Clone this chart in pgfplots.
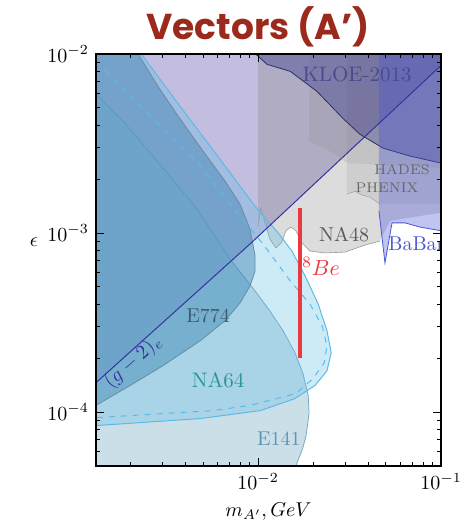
\documentclass[border=0pt]{standalone}
\usepackage{fontspec}
\usepackage{pgfplots}
\pgfplotsset{compat=1.18}
\newfontfamily\titlefont{Poppins}
\definecolor{lav}{HTML}{C3BEDF}
\definecolor{nagray}{HTML}{808080}
\definecolor{kloe}{HTML}{3A3A8C}
\definecolor{babar}{HTML}{4A55D6}
\definecolor{eoneff}{HTML}{A9C9DA}
\definecolor{esev}{HTML}{2F6A98}
\definecolor{nasf}{HTML}{5BBBE6}
\definecolor{gmtwo}{HTML}{3434A0}
\definecolor{bered}{HTML}{E83A40}
\definecolor{titlered}{HTML}{9B2A1C}
\definecolor{kloetext}{HTML}{4A4A8C}
\definecolor{babartext}{HTML}{4C55D0}
\definecolor{esevtext}{HTML}{3D5A6C}
\definecolor{nasftext}{HTML}{2A9595}
\definecolor{eonetext}{HTML}{5C93B3}
\begin{document}
\begin{tikzpicture}
\begin{axis}[
  scale only axis, width=172.5pt, height=206pt,
  xmode=log, ymode=log,
  xmin=1.3e-3, xmax=0.1, ymin=5e-5, ymax=1e-2,
  axis on top,
  axis line style={line width=0.7pt},
  tick style={black, line width=0.5pt},
  major tick length=4pt, minor tick length=2.2pt,
  xlabel={$m_{A'}, GeV$},
]
% lavender region above (g-2) line
\addplot[draw=none, fill=lav] coordinates {(1.3e-3,1.46e-4) (9.04e-3,8.69e-4) (0.1,8.63e-3) (0.1,1e-2) (1.3e-3,1e-2)} -- cycle;
% NA48
\addplot[draw=none, fill=nagray, fill opacity=0.28] coordinates {(1e-2,1e-2) (1e-2,1.09e-3) (1.038e-2,1.38e-3) (1.09e-2,1.14e-3) (1.16e-2,9.26e-4) (1.25e-2,8.25e-4) (1.34e-2,8.80e-4) (1.42e-2,1.03e-3) (1.51e-2,1.08e-3) (1.61e-2,1.03e-3) (1.74e-2,8.80e-4) (1.92e-2,7.94e-4) (2.32e-2,7.74e-4) (2.99e-2,7.83e-4) (3.84e-2,8.57e-4) (4.64e-2,9.02e-4) (5.26e-2,1.17e-3) (0.1,1.3e-3) (0.1,1e-2)} -- cycle;
\addplot[black!40, line width=0.3pt] coordinates {(1e-2,1.09e-3) (1.038e-2,1.38e-3) (1.09e-2,1.14e-3) (1.16e-2,9.26e-4) (1.25e-2,8.25e-4) (1.34e-2,8.80e-4) (1.42e-2,1.03e-3) (1.51e-2,1.08e-3) (1.61e-2,1.03e-3) (1.74e-2,8.80e-4) (1.92e-2,7.94e-4) (2.32e-2,7.74e-4) (2.99e-2,7.83e-4) (3.84e-2,8.57e-4) (4.64e-2,9.02e-4)};
% HADES
\addplot[draw=none, fill=nagray, fill opacity=0.15] coordinates {(1.9e-2,1e-2) (1.9e-2,3.26e-3) (2.47e-2,2.87e-3) (3.06e-2,2.46e-3) (0.1,2.3e-3) (0.1,1e-2)} -- cycle;
% PHENIX
\addplot[draw=none, fill=nagray, fill opacity=0.15] coordinates {(3.06e-2,1e-2) (3.06e-2,1.65e-3) (3.39e-2,1.71e-3) (3.70e-2,1.63e-3) (4.09e-2,1.59e-3) (4.64e-2,1.45e-3) (0.1,1.45e-3) (0.1,1e-2)} -- cycle;
\addplot[black!35, line width=0.3pt] coordinates {(3.06e-2,1.65e-3) (3.39e-2,1.71e-3) (3.70e-2,1.63e-3) (4.09e-2,1.59e-3) (4.64e-2,1.45e-3)};
% KLOE
\addplot[draw=kloe!80!black, line width=0.4pt, fill=kloe, fill opacity=0.4] coordinates {(9.7e-3,1e-2) (1.12e-2,8.75e-3) (1.5e-2,8.0e-3) (2.1e-2,6.18e-3) (2.91e-2,4.37e-3) (3.61e-2,3.56e-3) (4.82e-2,2.98e-3) (6.77e-2,2.69e-3) (0.1,2.46e-3) (0.1,1e-2)} -- cycle;
% BaBar
\addplot[draw=none, fill=babar, fill opacity=0.35] coordinates {(4.58e-2,1e-2) (4.58e-2,1.33e-3) (4.94e-2,6.81e-4) (5.40e-2,1.14e-3) (6.35e-2,1.14e-3) (7.68e-2,1.08e-3) (0.1,1.03e-3) (0.1,1e-2)} -- cycle;
\addplot[babar, line width=0.4pt] coordinates {(4.58e-2,1.33e-3) (4.94e-2,6.81e-4) (5.40e-2,1.14e-3) (6.35e-2,1.14e-3) (7.68e-2,1.08e-3) (0.1,1.03e-3)};
% E141
\addplot[draw=eonetext!80, line width=0.4pt, fill=eoneff, fill opacity=0.6] coordinates {(1.3e-3,5.94e-3) (1.83e-3,4.21e-3) (3.03e-3,2.30e-3) (4.58e-3,1.38e-3) (6.94e-3,7.26e-4) (9.63e-3,4.75e-4) (1.16e-2,3.67e-4) (1.37e-2,2.85e-4) (1.59e-2,2.15e-4) (1.76e-2,1.64e-4) (1.88e-2,1.24e-4) (1.90e-2,9.81e-5) (1.83e-2,7.40e-5) (1.76e-2,6.34e-5) (1.61e-2,5e-5) (1.3e-3,5e-5)} -- cycle;
% E774
\addplot[draw=esevtext!80, line width=0.4pt, fill=esev, fill opacity=0.45] coordinates {(1.3e-3,1e-2) (2.21e-3,1e-2) (2.84e-3,6.59e-3) (3.66e-3,4.49e-3) (5.00e-3,2.87e-3) (6.60e-3,1.95e-3) (7.97e-3,1.45e-3) (9.04e-3,1.05e-3) (9.63e-3,7.44e-4) (9.63e-3,6.14e-4) (9.04e-3,5.07e-4) (7.97e-3,4.07e-4) (6.60e-3,3.24e-4) (4.82e-3,2.50e-4) (3.03e-3,1.82e-4) (2.00e-3,1.41e-4) (1.30e-3,1.09e-4)} -- cycle;
% NA64
\addplot[draw=nasf, line width=0.5pt, fill=nasf, fill opacity=0.3] coordinates {(1.3e-3,1e-2) (2.30e-3,1e-2) (3.75e-3,5.10e-3) (6.20e-3,2.58e-3) (9.63e-3,1.41e-3) (1.29e-2,1.0e-3) (1.53e-2,7.94e-4) (1.81e-2,5.75e-4) (2.13e-2,4.02e-4) (2.38e-2,2.85e-4) (2.51e-2,2.15e-4) (2.38e-2,1.70e-4) (2.05e-2,1.41e-4) (1.59e-2,1.19e-4) (1.03e-2,1.02e-4) (4.82e-3,9.20e-5) (1.3e-3,8.41e-5)} -- cycle;
\addplot[nasf, line width=0.5pt, dashed] coordinates {(1.3e-3,9.08e-3) (2.44e-3,4.78e-3) (4.58e-3,2.52e-3) (7.58e-3,1.33e-3) (1.064e-2,8.69e-4) (1.50e-2,5.40e-4) (1.92e-2,4.02e-4) (2.24e-2,3.03e-4) (2.38e-2,2.35e-4) (2.30e-2,1.89e-4) (2.00e-2,1.54e-4) (1.61e-2,1.27e-4) (9.04e-3,1.09e-4) (5.68e-3,1.02e-4) (1.3e-3,9.31e-5)};
% (g-2)_e line
\addplot[gmtwo, line width=0.5pt] coordinates {(1.3e-3,1.46e-4) (9.04e-3,8.69e-4) (0.1,8.63e-3)};
% 8Be
\addplot[bered, line width=2pt] coordinates {(1.70e-2,2.01e-4) (1.70e-2,1.38e-3)};
% labels
\node[text=kloetext, font=\fontsize{10.5}{12}\selectfont] at (axis cs:3.48e-2,7.69e-3) {KLOE-2013};
\node[text=black!60, font=\fontsize{7}{8}\selectfont] at (axis cs:6.12e-2,2.27e-3) {HADES};
\node[text=black!60, font=\fontsize{7}{8}\selectfont] at (axis cs:5.07e-2,1.78e-3) {PHENIX};
\node[text=black!65, font=\fontsize{10}{12}\selectfont] at (axis cs:2.95e-2,9.87e-4) {NA48};
\begin{scope}
\clip (rel axis cs:0,0) rectangle (rel axis cs:1,1);
\node[text=babartext, anchor=west, inner sep=0pt, font=\fontsize{10}{12}\selectfont] at (axis cs:5.13e-2,8.69e-4) {BaBar};
\end{scope}
\node[text=bered, anchor=west, inner sep=0pt, font=\fontsize{11}{13}\selectfont] at (axis cs:1.74e-2,6.55e-4) {$^8Be$};
\node[text=esevtext, font=\fontsize{10}{12}\selectfont] at (axis cs:5.33e-3,3.45e-4) {E774};
\node[text=nasftext, font=\fontsize{10.5}{12}\selectfont] at (axis cs:6.04e-3,1.50e-4) {NA64};
\node[text=eonetext, font=\fontsize{10}{12}\selectfont] at (axis cs:1.30e-2,7.11e-5) {E141};
\node[text=gmtwo, rotate=41, inner sep=0pt, font=\fontsize{10}{12}\selectfont] at (axis cs:2.08e-3,1.91e-4) {$(g-2)_e$};
\end{axis}
\node at (-31pt,112pt) {$\epsilon$};
\node[text=titlered, font=\titlefont\bfseries\fontsize{18}{20}\selectfont] at (81pt,219.5pt) {Vectors (A’)};
\pgfresetboundingbox
\path[use as bounding box] (-48pt,-28.5pt) rectangle (185.5pt,233pt);
\end{tikzpicture}
\end{document}
